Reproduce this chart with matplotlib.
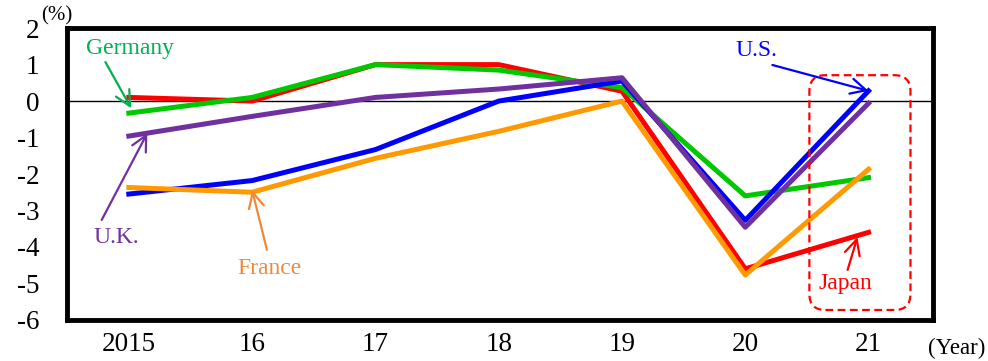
import matplotlib
matplotlib.use("Agg")
import matplotlib.pyplot as plt
from matplotlib.patches import FancyBboxPatch

plt.rcParams["font.family"] = ["Liberation Serif", "DejaVu Serif"]
plt.rcParams["axes.unicode_minus"] = False

years = [2015, 2016, 2017, 2018, 2019, 2020, 2021]
year_labels = ["2015", "16", "17", "18", "19", "20", "21"]

japan = [0.1, 0.0, 1.0, 1.0, 0.27, -4.6, -3.6]
germany = [-0.33, 0.1, 1.0, 0.85, 0.37, -2.6, -2.1]
us = [-2.55, -2.18, -1.33, 0.0, 0.55, -3.27, 0.28]
france = [-2.37, -2.5, -1.57, -0.83, 0.0, -4.77, -1.87]
uk = [-0.96, -0.42, 0.1, 0.33, 0.64, -3.46, -0.06]

fig = plt.figure(figsize=(9.88, 3.61), dpi=100)
ax = fig.add_axes([0.068, 0.114, 0.876, 0.808])

lw = 3.6
ax.axhline(0, color="black", lw=1.0, zorder=1)
ax.plot(years, japan, color="#ff0000", lw=lw, zorder=2)
ax.plot(years, germany, color="#00c800", lw=lw, zorder=3)
ax.plot(years, us, color="#0000ff", lw=lw, zorder=4)
ax.plot(years, france, color="#ff9900", lw=lw, zorder=5)
ax.plot(years, uk, color="#7030a0", lw=lw, zorder=6)

ax.set_xlim(2014.5, 2021.52)
ax.set_ylim(-6, 2)
ax.set_xticks(years)
ax.set_xticklabels(year_labels)
ax.set_yticks(range(-6, 3))
ax.tick_params(length=0, labelsize=19.5)
ax.tick_params(axis="x", pad=8.5)
ax.tick_params(axis="y", pad=20)
for s in ax.spines.values():
    s.set_linewidth(3.5)

def label(text, pos, start, tip, color):
    ax.text(pos[0], pos[1], text, color=color, fontsize=17,
            ha="center", va="center", zorder=8)
    ax.annotate("", xy=tip, xytext=start,
                arrowprops=dict(arrowstyle="->,head_length=1.1,head_width=0.55",
                                color=color, lw=1.6, shrinkA=0, shrinkB=0),
                zorder=8)

label("Germany", (2015.01, 1.45), (2014.81, 1.07), (2015.02, -0.2), "#00b050")
label("U.K.", (2014.90, -3.75), (2014.78, -3.26), (2015.15, -0.88), "#7030a0")
label("France", (2016.14, -4.58), (2016.12, -4.08), (years[1], -2.44), "#f08a3a")
label("U.S.", (2020.09, 1.40), (2020.22, 0.99), (years[6], us[6]), "#0000ff")
label("Japan", (2020.81, -4.99), (2020.83, -4.63), (2020.91, -3.73), "#ff0000")

box = FancyBboxPatch((2020.52, -5.73), 0.82, 6.44,
                     boxstyle="round,pad=0,rounding_size=0.13",
                     mutation_aspect=3.39, fill=False, ec="#ff0000",
                     lw=1.6, ls=(0, (3.5, 2)), zorder=7)
ax.add_patch(box)

fig.text(0.057, 0.955, "(%)", fontsize=15, ha="center", va="center")
fig.text(0.968, 0.036, "(Year)", fontsize=16.5, ha="center", va="center")

fig.savefig("out.png", dpi=100)
